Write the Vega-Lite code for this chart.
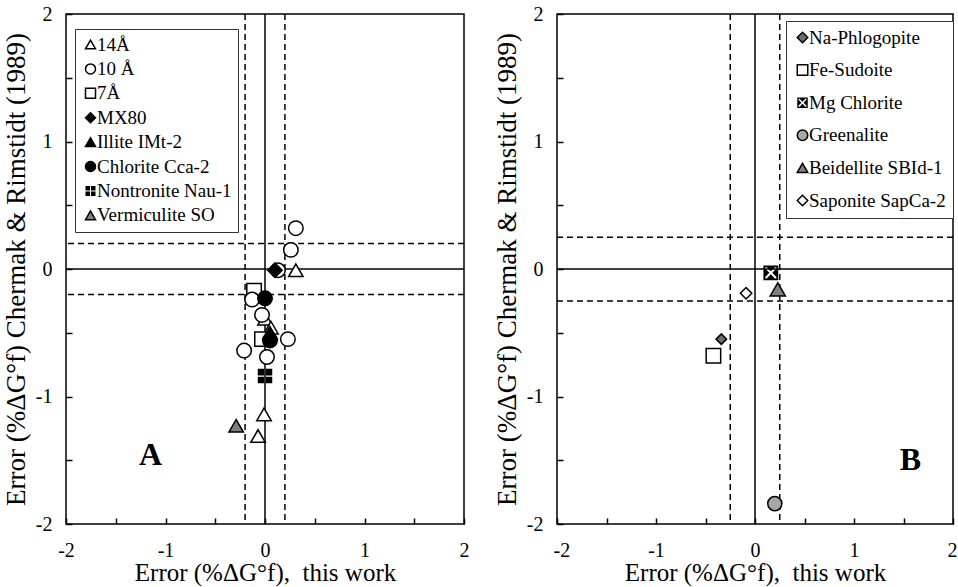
{
  "$schema": "https://vega.github.io/schema/vega-lite/v6.json",
  "background": "white",
  "padding": {"left": 1, "top": 3, "right": 0, "bottom": 4},
  "spacing": 93,
  "bounds": "flush",
  "config": {
    "font": "Liberation Serif",
    "view": {"stroke": "black", "strokeWidth": 1.5},
    "axis": {
      "domain": false, "tickColor": "black", "tickWidth": 1.5, "tickSize": 6, "ticks": true, "offset": -6, "zindex": 2,
      "grid": false, "labelFont": "Liberation Serif", "labelFontSize": 20,
      "labelColor": "black", "titleFont": "Liberation Serif", "titleFontWeight": "normal",
      "titleColor": "black", "labelFlush": false, "labelOverlap": false
    },
    "legend": {
      "labelFont": "Liberation Serif", "labelFontSize": 19, "labelColor": "black",
      "strokeColor": "#333", "fillColor": "white", "symbolStrokeWidth": 1.5, "orient": "none"
    }
  },
  "hconcat": [
    {
      "width": 398, "height": 510,
      "layer": [
        {
          "data": {"values": [{"v": -0.2}, {"v": 0.2}]},
          "mark": {"type": "rule", "color": "black", "strokeWidth": 1.5, "strokeDash": [6, 4]},
          "encoding": {"x": {"field": "v", "type": "quantitative", "scale": {"domain": [-2, 2]}}}
        },
        {
          "data": {"values": [{"v": -0.2}, {"v": 0.2}]},
          "mark": {"type": "rule", "color": "black", "strokeWidth": 1.5, "strokeDash": [6, 4]},
          "encoding": {"y": {"field": "v", "type": "quantitative", "scale": {"domain": [-2, 2]}}}
        },
        {
          "data": {"values": [{"v": 0}]},
          "mark": {"type": "rule", "color": "black", "strokeWidth": 1.5},
          "encoding": {"x": {"field": "v", "type": "quantitative"}}
        },
        {
          "data": {"values": [{"v": 0}]},
          "mark": {"type": "rule", "color": "black", "strokeWidth": 1.5},
          "encoding": {"y": {"field": "v", "type": "quantitative"}}
        },
        {
          "data": {"values": [
            {"m": "10 Å", "x": 0.31, "y": 0.32},
            {"m": "10 Å", "x": 0.26, "y": 0.15},
            {"m": "10 Å", "x": 0.13, "y": -0.01},
            {"m": "7Å", "x": -0.11, "y": -0.17},
            {"m": "10 Å", "x": -0.13, "y": -0.24},
            {"m": "14Å", "x": 0.0, "y": -0.39},
            {"m": "14Å", "x": 0.06, "y": -0.46},
            {"m": "10 Å", "x": -0.03, "y": -0.36},
            {"m": "7Å", "x": -0.03, "y": -0.55},
            {"m": "10 Å", "x": 0.23, "y": -0.55},
            {"m": "10 Å", "x": -0.21, "y": -0.64},
            {"m": "10 Å", "x": 0.02, "y": -0.69},
            {"m": "14Å", "x": 0.31, "y": -0.01},
            {"m": "14Å", "x": -0.01, "y": -1.14},
            {"m": "14Å", "x": -0.07, "y": -1.31},
            {"m": "Illite IMt-2", "x": 0.05, "y": -0.5},
            {"m": "Chlorite Cca-2", "x": 0.0, "y": -0.23},
            {"m": "Chlorite Cca-2", "x": 0.05, "y": -0.56},
            {"m": "MX80", "x": 0.1, "y": -0.01},
            {"m": "Nontronite Nau-1", "x": 0.0, "y": -0.84},
            {"m": "Vermiculite SO", "x": -0.29, "y": -1.23}
          ]},
          "mark": {"type": "point", "filled": true, "opacity": 1, "strokeWidth": 1.5},
          "encoding": {
            "x": {"field": "x", "type": "quantitative", "scale": {"domain": [-2, 2], "nice": false, "zero": false},
              "axis": {"orient": "bottom", "values": [-2, -1.75, -1.5, -1.25, -1, -0.75, -0.5, -0.25, 0, 0.25, 0.5, 0.75, 1, 1.25, 1.5, 1.75, 2],
                "labelExpr": "abs(datum.value - round(datum.value)) < 0.001 ? '' + round(datum.value) : ''",
                "labelPadding": 16, "title": "Error (%ΔG°f),\u00a0 this work", "titleFontSize": 25, "titlePadding": 0}},
            "y": {"field": "y", "type": "quantitative", "scale": {"domain": [-2, 2], "nice": false, "zero": false},
              "axis": {"orient": "left", "values": [-2, -1.75, -1.5, -1.25, -1, -0.75, -0.5, -0.25, 0, 0.25, 0.5, 0.75, 1, 1.25, 1.5, 1.75, 2],
                "labelExpr": "abs(datum.value - round(datum.value)) < 0.001 ? '' + round(datum.value) : ''",
                "labelPadding": 14, "title": "Error (%ΔG°f) Chermak & Rimstidt (1989)", "titleFontSize": 27, "titlePadding": 5}},
            "shape": {"field": "m", "type": "nominal",
              "scale": {"domain": ["14Å", "10 Å", "7Å", "MX80", "Illite IMt-2", "Chlorite Cca-2", "Nontronite Nau-1", "Vermiculite SO"],
                "range": ["triangle-up", "circle", "square", "diamond", "triangle-up", "circle",
                  "M-1,-1H-0.1V-0.1H-1Z M0.1,-1H1V-0.1H0.1Z M-1,0.1H-0.1V1H-1Z M0.1,0.1H1V1H0.1Z", "triangle-up"]},
              "legend": {"title": null, "legendX": 9, "legendY": 15, "padding": 6, "rowPadding": 4.4, "symbolSize": 100, "labelOffset": -3}},
            "fill": {"field": "m", "type": "nominal",
              "scale": {"domain": ["14Å", "10 Å", "7Å", "MX80", "Illite IMt-2", "Chlorite Cca-2", "Nontronite Nau-1", "Vermiculite SO"],
                "range": ["white", "white", "white", "black", "black", "black", "black", "#7f7f7f"]},
              "legend": {"title": null, "legendX": 9, "legendY": 15, "padding": 6, "rowPadding": 4.4, "symbolSize": 100, "labelOffset": -3}},
            "stroke": {"field": "m", "type": "nominal",
              "scale": {"domain": ["14Å", "10 Å", "7Å", "MX80", "Illite IMt-2", "Chlorite Cca-2", "Nontronite Nau-1", "Vermiculite SO"],
                "range": ["black", "black", "black", "black", "black", "black", "transparent", "black"]},
              "legend": {"title": null, "legendX": 9, "legendY": 15, "padding": 6, "rowPadding": 4.4, "symbolSize": 100, "labelOffset": -3}},
            "size": {"value": 210}
          }
        },
        {
          "data": {"values": [{"t": "A", "x": -1.15, "y": -1.46}]},
          "mark": {"type": "text", "font": "Liberation Serif", "fontSize": 32, "fontWeight": "bold", "color": "black"},
          "encoding": {"x": {"field": "x", "type": "quantitative"}, "y": {"field": "y", "type": "quantitative"}, "text": {"field": "t"}}
        }
      ]
    },
    {
      "width": 396, "height": 510,
      "layer": [
        {
          "data": {"values": [{"v": -0.25}, {"v": 0.25}]},
          "mark": {"type": "rule", "color": "black", "strokeWidth": 1.5, "strokeDash": [6, 4]},
          "encoding": {"x": {"field": "v", "type": "quantitative", "scale": {"domain": [-2, 2]}}}
        },
        {
          "data": {"values": [{"v": -0.25}, {"v": 0.25}]},
          "mark": {"type": "rule", "color": "black", "strokeWidth": 1.5, "strokeDash": [6, 4]},
          "encoding": {"y": {"field": "v", "type": "quantitative", "scale": {"domain": [-2, 2]}}}
        },
        {
          "data": {"values": [{"v": 0}]},
          "mark": {"type": "rule", "color": "black", "strokeWidth": 1.5},
          "encoding": {"x": {"field": "v", "type": "quantitative"}}
        },
        {
          "data": {"values": [{"v": 0}]},
          "mark": {"type": "rule", "color": "black", "strokeWidth": 1.5},
          "encoding": {"y": {"field": "v", "type": "quantitative"}}
        },
        {
          "data": {"values": [
            {"n": "Na-Phlogopite", "x": -0.34, "y": -0.55, "s": 110},
            {"n": "Fe-Sudoite", "x": -0.42, "y": -0.68, "s": 210},
            {"n": "Mg Chlorite", "x": 0.16, "y": -0.03, "s": 220},
            {"n": "Greenalite", "x": 0.2, "y": -1.84, "s": 200},
            {"n": "Beidellite SBId-1", "x": 0.23, "y": -0.16, "s": 230},
            {"n": "Saponite SapCa-2", "x": -0.09, "y": -0.19, "s": 130}
          ]},
          "mark": {"type": "point", "filled": true, "opacity": 1, "strokeWidth": 1.5},
          "encoding": {
            "x": {"field": "x", "type": "quantitative", "scale": {"domain": [-2, 2], "nice": false, "zero": false},
              "axis": {"orient": "bottom", "values": [-2, -1.75, -1.5, -1.25, -1, -0.75, -0.5, -0.25, 0, 0.25, 0.5, 0.75, 1, 1.25, 1.5, 1.75, 2],
                "labelExpr": "abs(datum.value - round(datum.value)) < 0.001 ? '' + round(datum.value) : ''",
                "labelFlush": true, "labelFlushOffset": 4,
                "labelPadding": 16, "title": "Error (%ΔG°f),\u00a0 this work", "titleFontSize": 25, "titlePadding": 0}},
            "y": {"field": "y", "type": "quantitative", "scale": {"domain": [-2, 2], "nice": false, "zero": false},
              "axis": {"orient": "left", "values": [-2, -1.75, -1.5, -1.25, -1, -0.75, -0.5, -0.25, 0, 0.25, 0.5, 0.75, 1, 1.25, 1.5, 1.75, 2],
                "labelExpr": "abs(datum.value - round(datum.value)) < 0.001 ? '' + round(datum.value) : ''",
                "labelPadding": 14, "title": "Error (%ΔG°f) Chermak & Rimstidt (1989)", "titleFontSize": 27, "titlePadding": 5}},
            "shape": {"field": "n", "type": "nominal",
              "scale": {"domain": ["Na-Phlogopite", "Fe-Sudoite", "Mg Chlorite", "Greenalite", "Beidellite SBId-1", "Saponite SapCa-2"],
                "range": ["diamond", "square",
                  "M-1,-1H1V1H-1Z M-0.75,-0.75V0.75H0.75V-0.75Z M-0.55,-0.75L0.55,-0.75L0,-0.2Z M0.75,-0.55L0.75,0.55L0.2,0Z M0.55,0.75L-0.55,0.75L0,0.2Z M-0.75,0.55L-0.75,-0.55L-0.2,0Z",
                  "circle", "triangle-up", "diamond"]},
              "legend": {"title": null, "legendX": 229, "legendY": 7, "padding": 7, "rowPadding": 12.6, "symbolSize": 110, "labelOffset": -3}},
            "fill": {"field": "n", "type": "nominal",
              "scale": {"domain": ["Na-Phlogopite", "Fe-Sudoite", "Mg Chlorite", "Greenalite", "Beidellite SBId-1", "Saponite SapCa-2"],
                "range": ["#6e6e6e", "white", "black", "#a6a6a6", "#7f7f7f", "white"]},
              "legend": {"title": null, "legendX": 229, "legendY": 7, "padding": 7, "rowPadding": 12.6, "symbolSize": 110, "labelOffset": -3}},
            "stroke": {"field": "n", "type": "nominal",
              "scale": {"domain": ["Na-Phlogopite", "Fe-Sudoite", "Mg Chlorite", "Greenalite", "Beidellite SBId-1", "Saponite SapCa-2"],
                "range": ["black", "black", "transparent", "black", "black", "black"]},
              "legend": {"title": null, "legendX": 229, "legendY": 7, "padding": 7, "rowPadding": 12.6, "symbolSize": 110, "labelOffset": -3}},
            "size": {"field": "s", "type": "quantitative", "scale": null, "legend": null}
          }
        },
        {
          "data": {"values": [{"t": "B", "x": 1.57, "y": -1.5}]},
          "mark": {"type": "text", "font": "Liberation Serif", "fontSize": 32, "fontWeight": "bold", "color": "black"},
          "encoding": {"x": {"field": "x", "type": "quantitative"}, "y": {"field": "y", "type": "quantitative"}, "text": {"field": "t"}}
        }
      ]
    }
  ],
  "resolve": {"scale": {"x": "independent", "y": "independent", "shape": "independent", "fill": "independent", "stroke": "independent"},
    "legend": {"shape": "independent", "fill": "independent", "stroke": "independent"}}
}
